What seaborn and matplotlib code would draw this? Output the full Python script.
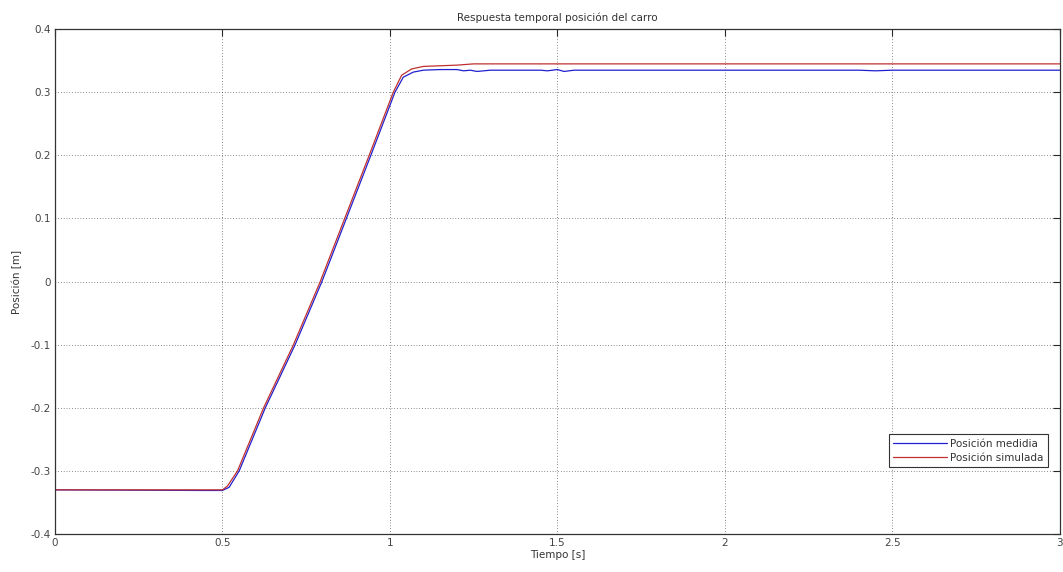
import matplotlib
matplotlib.use("Agg")
import matplotlib.pyplot as plt
import seaborn as sns
import pandas as pd

# Measured position (blue)
t_medida = [0.0, 0.45, 0.50, 0.52, 0.55, 0.628, 0.717, 0.797, 0.870, 0.943, 1.015,
            1.040, 1.070, 1.100, 1.15, 1.20, 1.22, 1.24, 1.26, 1.30, 1.45,
            1.47, 1.50, 1.52, 1.55, 1.60, 2.40, 2.45, 2.50, 2.60, 2.80, 3.00]
y_medida = [-0.330, -0.331, -0.331, -0.326, -0.300, -0.200, -0.100, 0.000, 0.100,
            0.200, 0.300, 0.324, 0.332, 0.335, 0.336, 0.336,
            0.334, 0.335, 0.333, 0.335, 0.335, 0.334, 0.336, 0.333, 0.335, 0.335,
            0.335, 0.334, 0.335, 0.335, 0.335, 0.335]

# Simulated position (red)
t_simulada = [0.0, 0.50, 0.515, 0.545, 0.623, 0.712, 0.792, 0.865, 0.938, 1.010,
              1.035, 1.065, 1.100, 1.15, 1.20, 1.25, 1.30, 2.00, 3.00]
y_simulada = [-0.330, -0.330, -0.324, -0.300, -0.200, -0.100, 0.000, 0.100, 0.200,
              0.300, 0.327, 0.337, 0.341, 0.342, 0.343, 0.345, 0.345, 0.345, 0.345]

x_ticks = [0, 0.5, 1, 1.5, 2, 2.5, 3]
x_labels = ["0", "0.5", "1", "1.5", "2", "2.5", "3"]
y_ticks = [-0.4, -0.3, -0.2, -0.1, 0, 0.1, 0.2, 0.3, 0.4]
y_labels = ["-0.4", "-0.3", "-0.2", "-0.1", "0", "0.1", "0.2", "0.3", "0.4"]

sns.set_style("white")
plt.rcParams['font.family'] = ['DejaVu Sans']

df = pd.concat([
    pd.DataFrame({"t": t_medida, "y": y_medida, "serie": "Posición medidia"}),
    pd.DataFrame({"t": t_simulada, "y": y_simulada, "serie": "Posición simulada"}),
])

fig = plt.figure(figsize=(10.63, 5.72), dpi=100)
ax = fig.add_axes([0.0517, 0.0664, 0.9453, 0.8826])

sns.lineplot(data=df, x="t", y="y", hue="serie",
             palette={"Posición medidia": "#2020d0", "Posición simulada": "#c03030"},
             linewidth=0.9, ax=ax, sort=False, estimator=None)

ax.set_xlim(0, 3)
ax.set_ylim(-0.4, 0.4)
ax.set_xticks(x_ticks)
ax.set_xticklabels(x_labels)
ax.set_yticks(y_ticks)
ax.set_yticklabels(y_labels)
ax.tick_params(direction="in", length=5, width=0.8, labelsize=7.5,
               labelcolor="#444444", top=True, right=True, pad=3)
ax.grid(True, linestyle=(0, (1, 3)), color="#222222", linewidth=0.5)
for s in ax.spines.values():
    s.set_color("#333333")
    s.set_linewidth(0.9)

ax.set_title("Respuesta temporal posición del carro", fontsize=7.5, color="#333333", pad=6)
ax.set_xlabel("Tiempo [s]", fontsize=7.5, color="#333333", labelpad=1)
ax.set_ylabel("Posición [m]", fontsize=7.5, color="#333333", labelpad=6)

leg = ax.legend(loc="lower right", bbox_to_anchor=(0.988, 0.133), borderaxespad=0,
                fontsize=7.5, frameon=True, fancybox=False, edgecolor="#333333",
                framealpha=1, handlelength=5.2, borderpad=0.4, labelspacing=0.4,
                handletextpad=0.3, title=None)
leg.get_frame().set_linewidth(0.8)
for txt in leg.get_texts():
    txt.set_color("#333333")

fig.savefig("out.png", dpi=100)
